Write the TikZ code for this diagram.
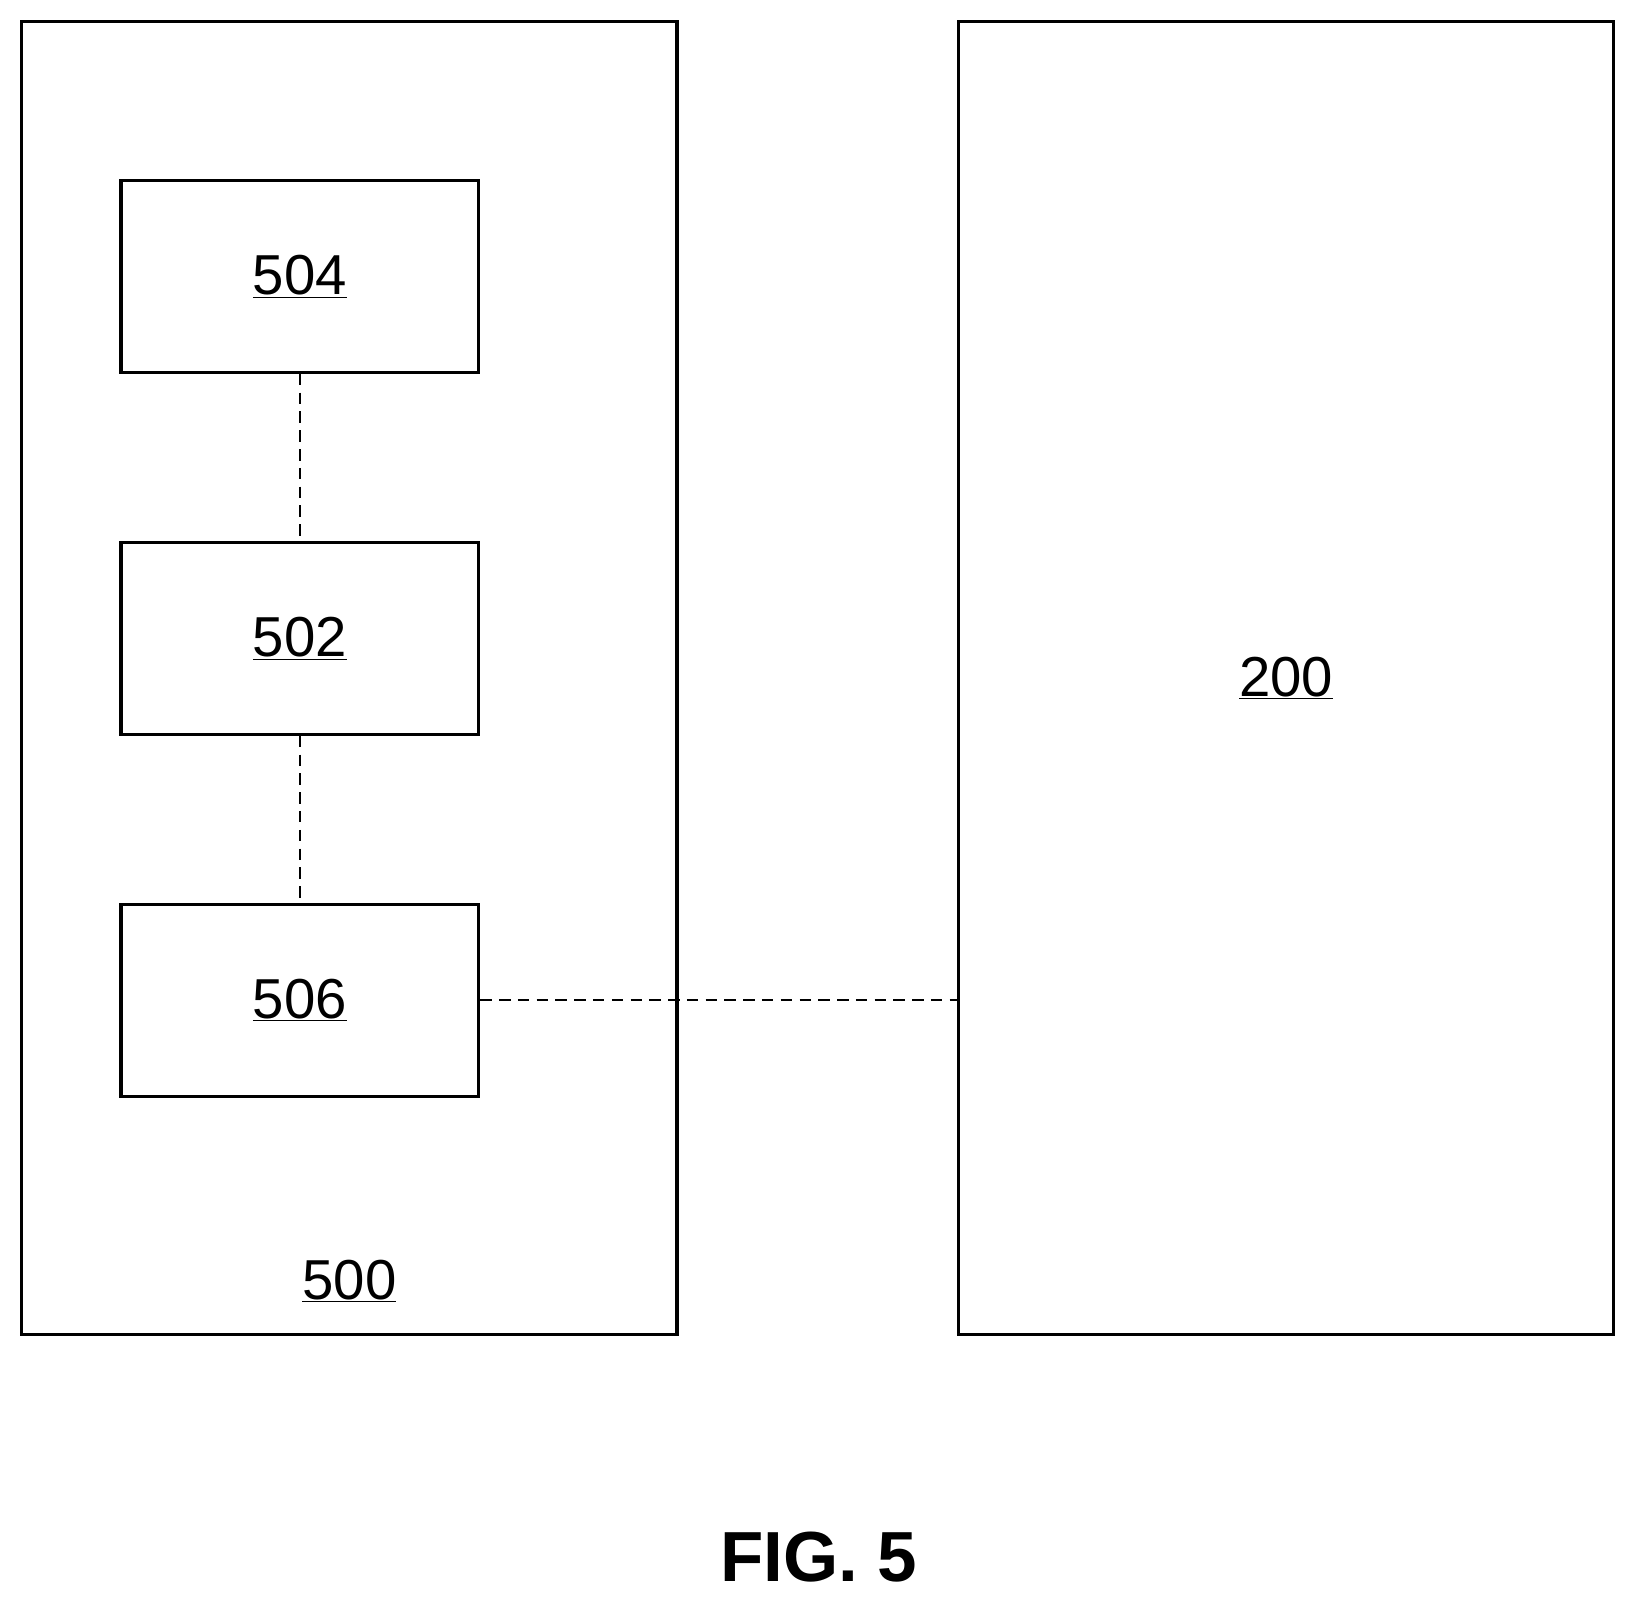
\documentclass[tikz,border=0pt]{standalone}
\usepackage{fontspec}
\setmainfont{Liberation Sans}
\begin{document}
\begin{tikzpicture}[x=1pt,y=-1pt,
 box/.style={draw,line width=3pt,inner sep=0pt},
 lbl/.style={font=\fontsize{54}{60}\selectfont},
 dsh/.style={line width=2pt,dash pattern=on 11pt off 7pt}]
\useasboundingbox (0,0) rectangle (1565.6,1533);
\node[box,minimum width=628pt,minimum height=1258pt] (b500) at (335,650) {};
\node[box,minimum width=628pt,minimum height=1258pt] (b200) at (1233,650) {};
\node[box,minimum width=343pt,minimum height=184pt] (b504) at (287.5,265) {};
\node[box,minimum width=343pt,minimum height=184pt] (b502) at (287.5,612) {};
\node[box,minimum width=343pt,minimum height=184pt] (b506) at (287.5,959) {};
\node[lbl] (t504) at (287.5,265) {\underline{504}};
\node[lbl] (t502) at (287.5,612) {\underline{502}};
\node[lbl] (t506) at (287.5,959) {\underline{506}};
\node[lbl] (t500) at (335,1228) {\underline{500}};
\node[lbl] (t200) at (1233,650) {\underline{200}};
\draw[dsh] (b504.south) -- (b502.north);
\draw[dsh] (b502.south) -- (b506.north);
\draw[dsh] (b506.east) -- (b200.west |- b506.east);
\node[font=\fontsize{68}{74}\selectfont\bfseries] (fig) at (785,1493) {FIG. 5};
\end{tikzpicture}
\end{document}
